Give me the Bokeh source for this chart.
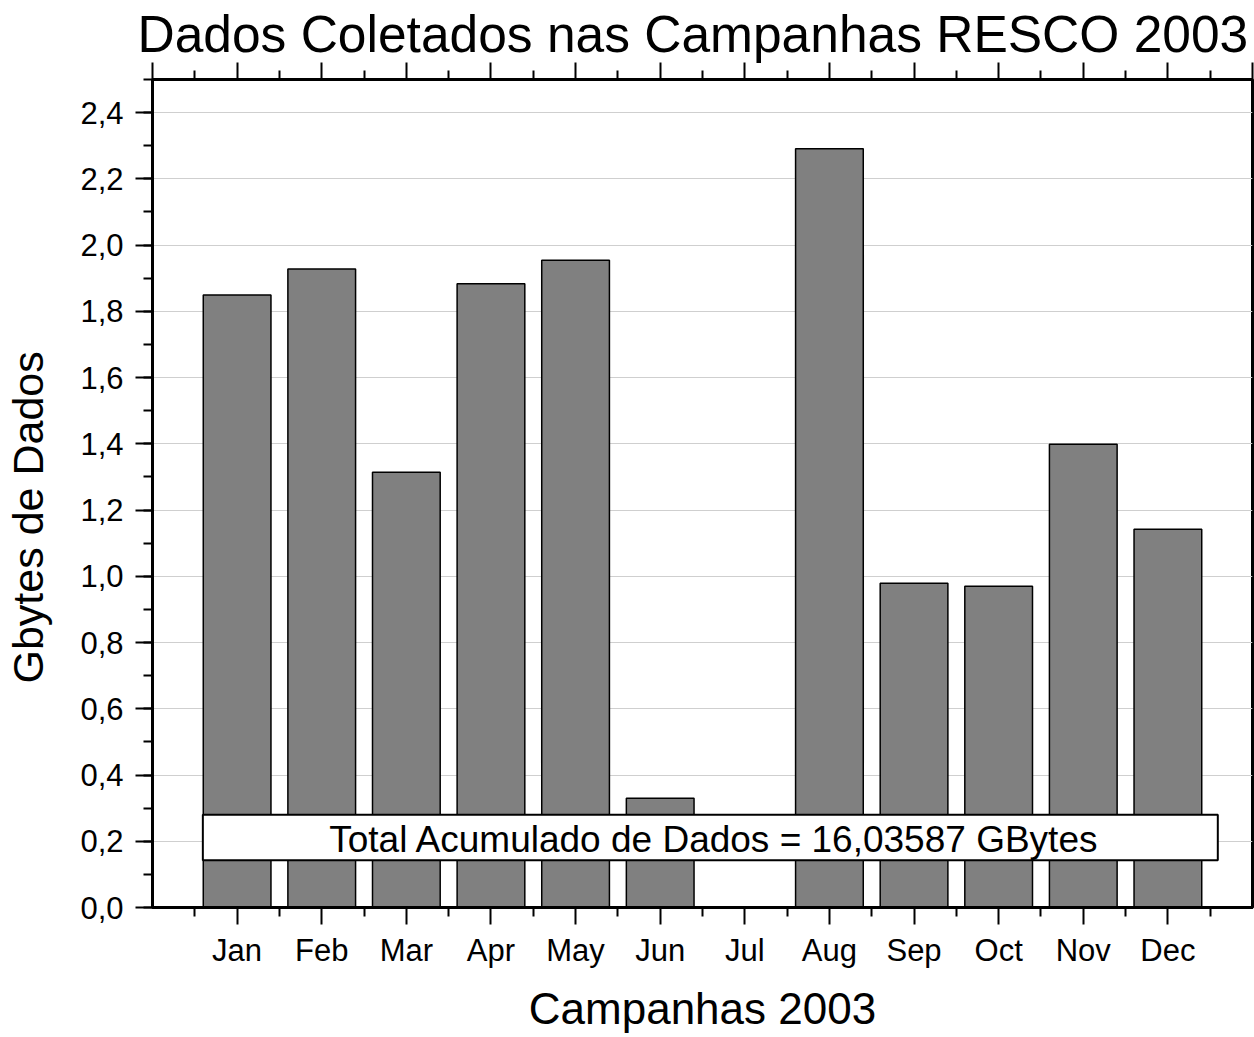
from bokeh.plotting import figure
from bokeh.models import (Range1d, FixedTicker, LinearAxis, CustomJSTickFormatter,
                          BoxAnnotation, Label, ColumnDataSource, Title)
from bokeh.embed import file_html
from bokeh.resources import INLINE

# ---- data ----
months = ["Jan", "Feb", "Mar", "Apr", "May", "Jun",
          "Jul", "Aug", "Sep", "Oct", "Nov", "Dec"]
gbytes = [1.849, 1.928, 1.314, 1.883, 1.954, 0.330,
          0.0, 2.291, 0.979, 0.970, 1.399, 1.142]
title_text = "Dados Coletados nas Campanhas RESCO 2003"
x_label = "Campanhas 2003"
y_label = "Gbytes de Dados"
note_text = "Total Acumulado de Dados = 16,03587 GBytes"

FONT = "Liberation Sans"
positions = [i + 1 for i in range(len(months))]
src = ColumnDataSource(dict(x=positions, top=gbytes, month=months))

p = figure(width=1254, height=1037, output_backend="svg", toolbar_location=None,
           x_range=Range1d(0, len(months) + 1), y_range=Range1d(0, 2.5),
           min_border_left=152, min_border_right=2, min_border_top=79,
           min_border_bottom=130)
p.background_fill_color = "white"
p.border_fill_color = "white"
p.outline_line_color = "black"
p.outline_line_width = 3

p.vbar(x="x", top="top", width=0.8, source=src, fill_color="#808080",
       line_color="black", line_width=1.5)

# x axis (bottom)
xa = p.xaxis[0]
xa.ticker = FixedTicker(ticks=positions,
                        minor_ticks=[i + 0.5 for i in range(len(months) + 1)])
xa.major_label_overrides = {pos: m for pos, m in zip(positions, months)}
xa.axis_label = x_label
xa.axis_label_standoff = 13
# y axis (left); trailing no-break spaces shift the centred title slightly downwards
ya = p.yaxis[0]
ya.ticker = FixedTicker(ticks=[i * 0.2 for i in range(13)],
                        minor_ticks=[i * 0.1 for i in range(26)])
ya.formatter = CustomJSTickFormatter(code="return tick.toFixed(1).replace('.', ',');")
ya.axis_label = y_label + "\u00a0" * 4
ya.axis_label_standoff = 25

for ax in (xa, ya):
    ax.axis_line_width = 3
    ax.axis_line_color = "black"
    ax.major_tick_out = 17
    ax.major_tick_in = 0
    ax.minor_tick_out = 9
    ax.minor_tick_in = 0
    ax.major_tick_line_width = 2
    ax.minor_tick_line_width = 2
    ax.major_tick_line_color = "black"
    ax.minor_tick_line_color = "black"
    ax.major_label_text_font = FONT
    ax.major_label_text_font_size = "31px"
    ax.major_label_text_color = "black"
    ax.axis_label_text_font = FONT
    ax.axis_label_text_font_style = "normal"
    ax.axis_label_text_color = "black"
xa.axis_label_text_font_size = "44px"
ya.axis_label_text_font_size = "43px"
xa.major_label_standoff = 8
ya.major_label_standoff = 12

# top axis: ticks only
top_ax = LinearAxis(ticker=FixedTicker(ticks=list(range(len(months) + 2)),
                                       minor_ticks=[i + 0.5 for i in range(len(months) + 1)]),
                    formatter=CustomJSTickFormatter(code="return '';"))
top_ax.axis_line_width = 3
top_ax.major_tick_out = 17
top_ax.major_tick_in = 0
top_ax.minor_tick_out = 9
top_ax.minor_tick_in = 0
top_ax.major_tick_line_width = 2
top_ax.minor_tick_line_width = 2
top_ax.major_label_text_font_size = "0px"
top_ax.major_label_standoff = 0
p.add_layout(top_ax, "above")

p.xgrid.visible = False
p.ygrid.grid_line_color = "#cfcfcf"
p.ygrid.grid_line_width = 1

# annotation box
box = BoxAnnotation(left=0.595, right=12.59, bottom=0.143, top=0.280,
                    fill_color="white", fill_alpha=1.0,
                    line_color="black", line_width=2, line_alpha=1.0)
p.add_layout(box)
p.add_layout(Label(x=6.64, y=0.204, text=note_text, text_align="center",
                   text_baseline="middle", text_font=FONT,
                   text_font_size="37px", text_color="black"))

# title
p.title = Title(text=title_text, align="left", offset=-15, standoff=0,
                text_font=FONT, text_font_size="51.5px",
                text_font_style="normal", text_color="black")

open("out.html", "w").write(file_html(p, INLINE))
